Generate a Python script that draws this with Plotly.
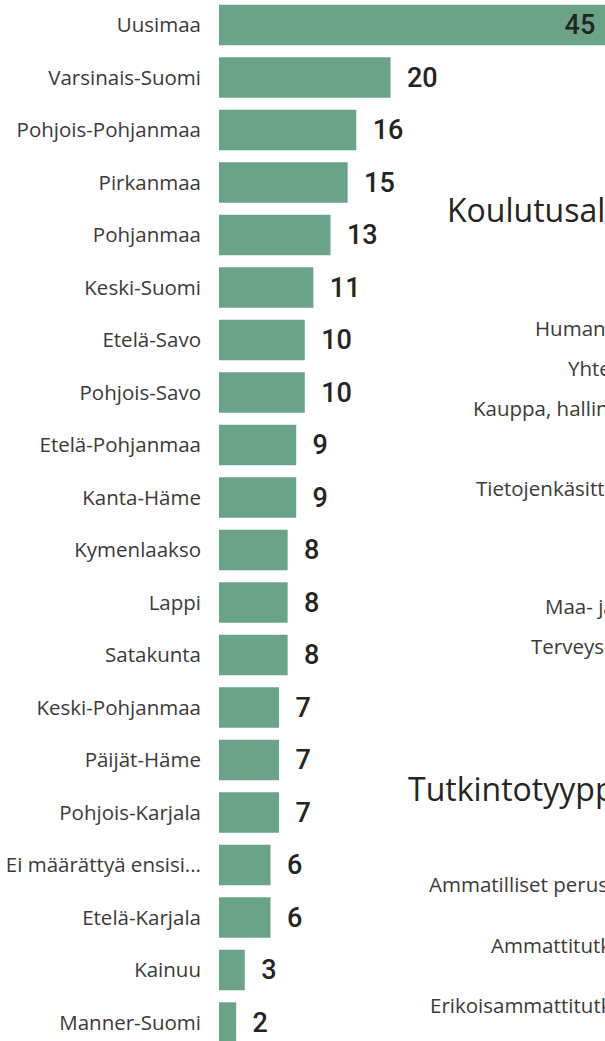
import plotly.graph_objects as go

# ---- data ----
regions = ["Uusimaa", "Varsinais-Suomi", "Pohjois-Pohjanmaa", "Pirkanmaa", "Pohjanmaa",
           "Keski-Suomi", "Etelä-Savo", "Pohjois-Savo", "Etelä-Pohjanmaa", "Kanta-Häme",
           "Kymenlaakso", "Lappi", "Satakunta", "Keski-Pohjanmaa", "Päijät-Häme",
           "Pohjois-Karjala", "Ei määrättyä ensisi...", "Etelä-Karjala", "Kainuu", "Manner-Suomi"]
values = [45, 20, 16, 15, 13, 11, 10, 10, 9, 9, 8, 8, 8, 7, 7, 7, 6, 6, 3, 2]

field_title = "Koulutusala"
field_labels = ["Humanistiset ja taidealat", "Yhteiskunnalliset alat",
                "Kauppa, hallinto ja oikeustieteet", "Tietojenkäsittely ja tietoliikenne (ICT)",
                "Maa- ja metsätalousalat", "Terveys- ja hyvinvointialat"]
type_title = "Tutkintotyyppi"
type_labels = ["Ammatilliset perustutkinnot", "Ammattitutkinnot", "Erikoisammattitutkinnot"]

# ---- layout constants (pixels) ----
W, H = 605, 1041
ML = 219
NB = "\u00a0"

vmax = max(values)
positions = ["inside" if v == vmax else "outside" for v in values]
texts = [(str(v) + NB) if p == "inside" else (NB * 2 + str(v)) for v, p in zip(values, positions)]

fig = go.Figure(go.Bar(
    x=values, y=regions, orientation="h",
    marker=dict(color="#6AA387", line=dict(width=0)),
    text=texts, textposition=positions, insidetextanchor="end",
    constraintext="none", cliponaxis=False,
    textfont=dict(family="Roboto, DejaVu Sans", size=27, color="#252423", weight=500),
    hoverinfo="skip",
))

step = 52.5
top_val = -25 / step
bot_val = top_val + H / step

fig.update_layout(
    width=W, height=H,
    margin=dict(l=ML, r=0, t=0, b=0),
    paper_bgcolor="white", plot_bgcolor="white",
    bargap=0.23, showlegend=False,
    xaxis=dict(range=[0, vmax], visible=False, fixedrange=True),
    yaxis=dict(type="category", range=[bot_val, top_val], showgrid=False, zeroline=False,
               showline=False, ticks="", ticklabelstandoff=17,
               tickfont=dict(family="Open Sans", size=20.5, color="#3b3a39"), fixedrange=True),
)

def px2paper(px, py):
    return (px - ML) / (W - ML), 1 - py / H

annots = []
fx, fy = px2paper(445, 210)
annots.append(dict(text=field_title, x=fx, y=fy, size=32, color="#252423"))
field_pos = [(533, 328), (566, 368), (471, 408), (474, 488), (543, 606), (529, 646)]
for lab, (px, py) in zip(field_labels, field_pos):
    ax, ay = px2paper(px, py)
    annots.append(dict(text=lab, x=ax, y=ay, size=20.5, color="#3b3a39"))
tx, ty = px2paper(406, 788)
annots.append(dict(text=type_title, x=tx, y=ty, size=32, color="#252423"))
type_pos = [(427, 884), (489, 945), (428, 1005)]
for lab, (px, py) in zip(type_labels, type_pos):
    ax, ay = px2paper(px, py)
    annots.append(dict(text=lab, x=ax, y=ay, size=20.5, color="#3b3a39"))

for a in annots:
    fig.add_annotation(text=a["text"], x=a["x"], y=a["y"], xref="paper", yref="paper",
                       xanchor="left", yanchor="middle", showarrow=False,
                       font=dict(family="Open Sans", size=a["size"], color=a["color"]))

fig.write_html("out.html", config={"displayModeBar": False},
               post_script="document.body.style.margin='0';document.body.style.overflow='hidden';")
